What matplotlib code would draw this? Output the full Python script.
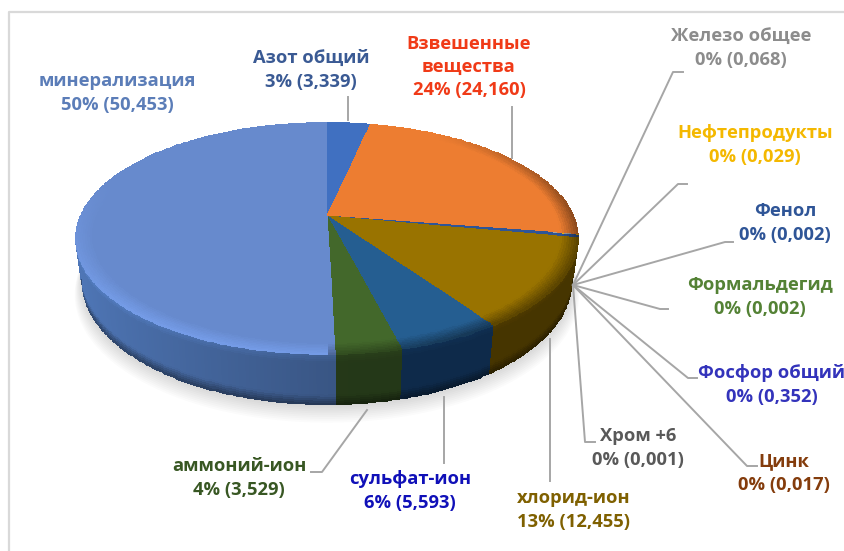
# -*- coding: utf-8 -*-
import numpy as np
import matplotlib
matplotlib.use("Agg")
import matplotlib.pyplot as plt

# slices, clockwise from the top
names = ["Азот общий", "Взвешенные\nвещества", "Железо общее", "Нефтепродукты", "Фенол",
         "Формальдегид", "Фосфор общий", "Хром +6", "Цинк", "хлорид-ион", "сульфат-ион",
         "аммоний-ион", "минерализация"]
values = [3.339, 24.160, 0.068, 0.029, 0.002, 0.002, 0.352, 0.001, 0.017, 12.455, 5.593, 3.529, 50.453]
percents = ["3%", "24%", "0%", "0%", "0%", "0%", "0%", "0%", "0%", "13%", "6%", "4%", "50%"]
value_text = ["3,339", "24,160", "0,068", "0,029", "0,002", "0,002", "0,352", "0,001", "0,017",
              "12,455", "5,593", "3,529", "50,453"]

# styles
top_colors = ["#4070C1", "#ED7D31", "#A5A5A5", "#FFC000", "#2F5597", "#548235", "#2F5597", "#636363",
              "#997300", "#997300", "#255E91", "#43682B", "#678ACD"]
side_colors = ["#3058A0", "#B05A20", "#777777", "#B08800", "#203F70", "#3C5E26", "#203F70", "#444444",
               "#64490A", "#644B00", "#143C69", "#345022", "#5078B9"]
text_colors = ["#3A5A94", "#F03A17", "#8C8C8C", "#F4B800", "#2F5597", "#548235", "#3333BB", "#595959",
               "#843C0C", "#7F6000", "#1010B8", "#385723", "#5B7DB8"]
label_pos = [(311, 70), (469, 67), (741, 48), (755, 145), (785, 223), (760, 297), (772, 385), (638, 448),
             (784, 473), (574, 510), (410, 491), (239, 478), (117, 93)]
leaders = [[(348, 97), (348, 120)],
           [(512, 107), (512, 158)],
           [(683, 72), (673, 72), (573, 285)],
           [(687, 184), (678, 184), (573, 285)],
           [(733, 242), (725, 242), (573, 285)],
           [(668, 309), (660, 309), (573, 285)],
           [(697, 378), (688, 378), (573, 285)],
           [(595, 442), (585, 442), (573, 285)],
           [(757, 466), (747, 466), (573, 285)],
           [(550, 339), (550, 481)],
           [(444, 397), (444, 463)],
           [(311, 472), (322, 472), (367, 410)]]

# perspective of the disc
cx, cy = 327, 216
k = 0.193
a = 112
b = 247
wall = 40.5


def project(theta, r, z=0.0):
    u = r * np.sin(theta)
    v = r * np.cos(theta)
    w = 1 + k * v
    x = cx + b * u / w * (1 - 0.025 * z)
    y = cy - a * v / w + wall * z * (1 / w)
    return x, y


def rgb(c):
    return np.array(matplotlib.colors.to_rgb(c))


fig = plt.figure(figsize=(8.45, 5.51), dpi=100)
ax = fig.add_axes([0, 0, 1, 1])
ax.set_xlim(0, 845)
ax.set_ylim(551, 0)
ax.axis("off")

# frame of the pasted picture
ax.plot([9.5, 9.5, 845], [551, 12, 12], color="#D9D9D9", lw=1.6)

angles = np.cumsum([0] + values) / sum(values) * 2 * np.pi

# soft shadow under the pie
t = np.linspace(0, 2 * np.pi, 200)
for i in range(10):
    sx, sy = project(t, 1.0 + i * 0.003, 1.0)
    ax.fill(sx, sy + 1 + i * 1.3, color="#000000", alpha=0.014, lw=0)

# outer wall, only the part facing the viewer
vis0, vis1 = np.arccos(-k), 2 * np.pi - np.arccos(-k)
zz = np.linspace(0, 1, 25)
for i in range(len(values)):
    t0, t1 = max(angles[i], vis0), min(angles[i + 1], vis1)
    if t1 <= t0:
        continue
    th = np.linspace(t0, t1, max(int((t1 - t0) * 80), 2))
    T, Z = np.meshgrid(th, zz)
    X, Y = project(T, 1.0, Z)
    tm = (T[:-1, :-1] + T[1:, 1:]) / 2
    zm = (Z[:-1, :-1] + Z[1:, 1:]) / 2
    shade = np.clip(1 - 0.28 * (1 + np.sin(tm)), 0.7, 1)
    shade = shade * np.where(zm > 0.8, 1 - (zm - 0.8) * 2.0, 1)
    shade = shade * (1 + 0.12 * np.clip(1 - zm / 0.15, 0, 1))
    C = np.clip(rgb(side_colors[i])[None, None, :] * shade[:, :, None], 0, 1)
    ax.pcolormesh(X, Y, C, shading="flat")

# top face with a bevelled rim
rr = np.concatenate([[0.0, 0.5, 0.88], np.linspace(0.9, 1, 12)])
for i in range(len(values)):
    th = np.linspace(angles[i], angles[i + 1], max(int((angles[i + 1] - angles[i]) * 80), 2))
    T, R = np.meshgrid(th, rr)
    X, Y = project(T, R)
    tm = (T[:-1, :-1] + T[1:, 1:]) / 2
    rm = (R[:-1, :-1] + R[1:, 1:]) / 2
    ramp = np.clip((rm - 0.93) / 0.07, 0, 1)
    su = np.sin(tm)
    cv = np.cos(tm)
    gain = np.where(su < 0, 0.13 * np.clip(-cv + 0.3, 0, 1), -0.42 * np.clip(su - cv * 0.6, 0, 1))
    C = np.clip(rgb(top_colors[i])[None, None, :] * (1 + gain * ramp)[:, :, None], 0, 1)
    ax.pcolormesh(X, Y, C, shading="flat")

# leader lines and labels
for line in leaders:
    ax.plot([p[0] for p in line], [p[1] for p in line], color="#A6A6A6", lw=1.4, solid_joinstyle="round")

for i in range(len(names)):
    txt = names[i] + "\n" + percents[i] + " (" + value_text[i] + ")"
    ax.text(label_pos[i][0], label_pos[i][1], txt, color=text_colors[i], ha="center", va="center",
            fontsize=13.2, fontweight="bold", family="Open Sans", linespacing=1.37)

fig.savefig("out.png", dpi=100)
